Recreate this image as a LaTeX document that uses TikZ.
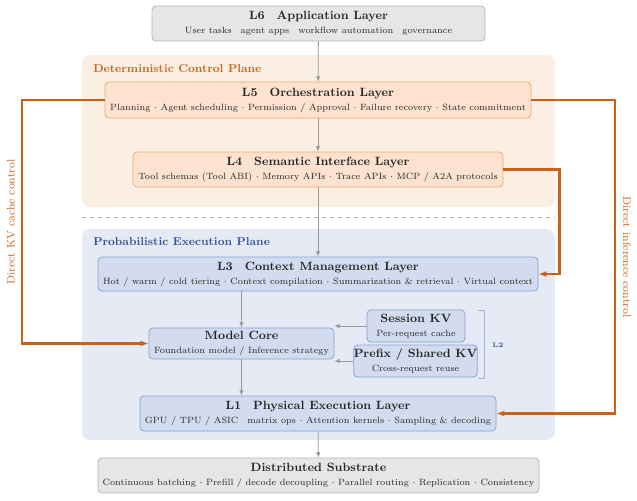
\documentclass[tikz,border=0pt]{standalone}
\usepackage{tikz}
\usetikzlibrary{arrows.meta,calc}

\definecolor{substrategray}{HTML}{E6E6E6}
\definecolor{substrateline}{HTML}{B4B4B4}
\definecolor{ctrlplane}{HTML}{FBEFE3}
\definecolor{ctrlbox}{HTML}{FCE2CF}
\definecolor{ctrlline}{HTML}{F0AA6C}
\definecolor{ctrltext}{HTML}{C5661F}
\definecolor{execplane}{HTML}{E5EAF4}
\definecolor{execbox}{HTML}{D3DCEE}
\definecolor{execline}{HTML}{84A2D4}
\definecolor{exectext}{HTML}{2F5597}
\definecolor{flowgray}{HTML}{9A9A9A}
\definecolor{bypassorange}{HTML}{C8621A}

\tikzset{
  layer/.style 2 args={draw, rounded corners=3pt, align=center, inner sep=0pt,
    line width=0.6pt, minimum width=#1*0.75pt, minimum height=#2*0.75pt,
    text=black!85},
  graylayer/.style 2 args={layer={#1}{#2}, draw=substrateline, fill=substrategray},
  ctrllayer/.style 2 args={layer={#1}{#2}, draw=ctrlline, fill=ctrlbox},
  execlayer/.style 2 args={layer={#1}{#2}, draw=execline, fill=execbox},
  plane/.style={rounded corners=6pt},
  planelabel/.style={anchor=west, inner sep=0pt, font=\fontsize{8.6}{10}\selectfont\bfseries},
  flow/.style={draw=flowgray, line width=0.6pt, -{Latex[length=4pt,width=3.5pt]}},
  bypass/.style={draw=bypassorange, line width=1.6pt, -{Latex[length=6pt,width=4.5pt]}},
  bypasslabel/.style={text=ctrltext, font=\fontsize{8.3}{10}\selectfont, inner sep=0pt},
}
\newcommand{\layertext}[2]{{\small\bfseries #1}\\[-1.5pt]{\fontsize{6.8}{8}\selectfont #2}}

\begin{document}
\begin{tikzpicture}[x=0.75pt,y=-0.75pt]
\useasboundingbox (0,0) rectangle (637,501);
\fill[plane, ctrlplane] (82,55) rectangle (555,207);
\fill[plane, execplane] (82,229) rectangle (555,440);
\draw[flowgray!70, dashed, line width=0.6pt] (82,217) -- (555,217);
\node[planelabel, text=ctrltext] (ctrlname) at (93,69) {Deterministic Control Plane};
\node[planelabel, text=exectext] (execname) at (93,242) {Probabilistic Execution Plane};

\node[graylayer={333}{35}] (app) at (318.5,23.5)
  {\layertext{L6\quad Application Layer}{User tasks\quad agent apps\quad workflow automation\quad governance}};
\node[ctrllayer={426}{36}] (orch) at (318,100)
  {\layertext{L5\quad Orchestration Layer}{Planning $\cdot$ Agent scheduling $\cdot$ Permission / Approval $\cdot$ Failure recovery $\cdot$ State commitment}};
\node[ctrllayer={370}{35}] (sem) at (318,169.5)
  {\layertext{L4\quad Semantic Interface Layer}{Tool schemas (Tool ABI) $\cdot$ Memory APIs $\cdot$ Trace APIs $\cdot$ MCP / A2A protocols}};
\node[execlayer={440}{34}] (ctx) at (318,274)
  {\layertext{L3\quad Context Management Layer}{Hot / warm / cold tiering $\cdot$ Context compilation $\cdot$ Summarization \& retrieval $\cdot$ Virtual context}};
\node[execlayer={185}{31}] (core) at (241.5,343.5)
  {\layertext{Model Core}{Foundation model / Inference strategy}};
\node[execlayer={98}{32}] (skv) at (416,326)
  {\layertext{Session KV}{Per-request cache}};
\node[execlayer={123}{32}] (pkv) at (415.5,361)
  {\layertext{Prefix / Shared KV}{Cross-request reuse}};
\node[execlayer={356}{35}] (phys) at (318,413.5)
  {\layertext{L1\quad Physical Execution Layer}{GPU / TPU / ASIC\quad matrix ops $\cdot$ Attention kernels $\cdot$ Sampling \& decoding}};
\node[graylayer={441}{35}] (sub) at (318.5,475.5)
  {\layertext{Distributed Substrate}{Continuous batching $\cdot$ Prefill / decode decoupling $\cdot$ Parallel routing $\cdot$ Replication $\cdot$ Consistency}};

\draw[execline!80, line width=0.6pt] (478,310) -- (484,310) -- (484,378) -- (478,378);
\node[text=exectext, font=\tiny\bfseries] (kvgroup) at (498,345) {L2};

\draw[flow] (app) -- (orch);
\draw[flow] (orch) -- (sem);
\draw[flow] (sem) -- (ctx);
\draw[flow] (ctx.south -| core.north) -- (core.north);
\draw[flow] (skv.west) -- (skv.west -| core.east);
\draw[flow] (pkv.west) -- (pkv.west -| core.east);
\draw[flow] (core.south) -- (core.south |- phys.north);
\draw[flow] (phys) -- (sub);

\coordinate (kvrail) at (22,0);
\coordinate (ctxrail) at (559.5,0);
\coordinate (infrail) at (615,0);
\draw[bypass] (orch.west) -- (orch.west -| kvrail) |- (core.west);
\draw[bypass] (sem.east) -- (sem.east -| ctxrail) |- (ctx.east);
\draw[bypass] (orch.east) -- (orch.east -| infrail) |- (phys.east);
\node[bypasslabel, rotate=90] (kvlabel) at (11,222) {Direct KV cache control};
\node[bypasslabel, rotate=-90] (inflabel) at (627,257) {Direct inference control};
\end{tikzpicture}
\end{document}
